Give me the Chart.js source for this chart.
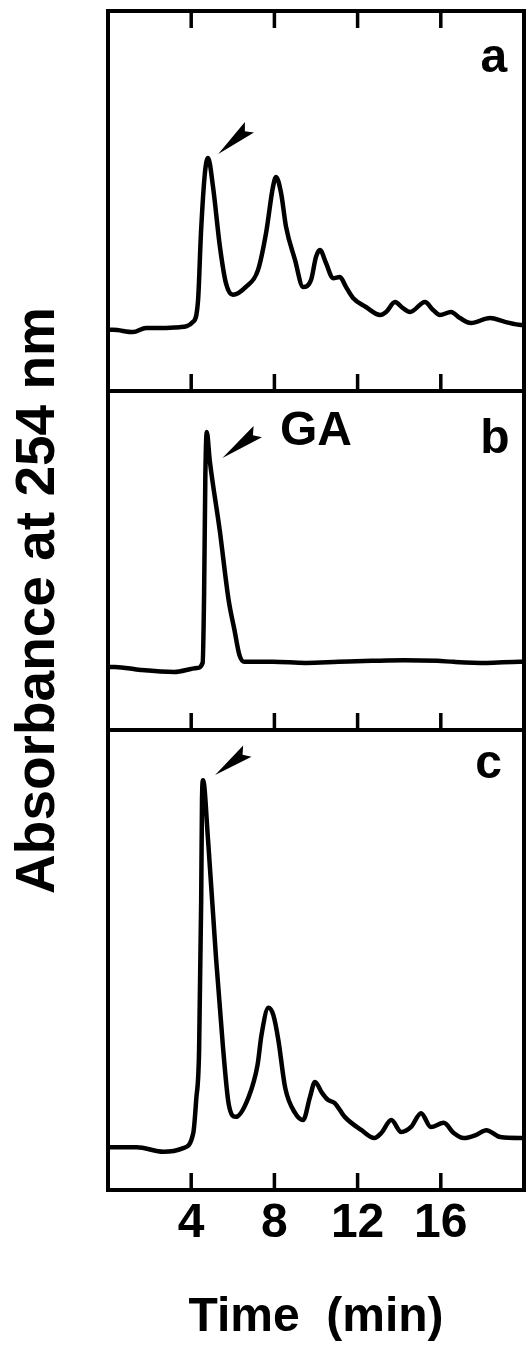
<!DOCTYPE html>
<html>
<head>
<meta charset="utf-8">
<script src="https://cdn.jsdelivr.net/npm/chart.js@4.4.1/dist/chart.umd.min.js"></script>
<style>
  html, body { margin: 0; padding: 0; background: #fff; }
  #wrap { position: relative; width: 530px; height: 1353px; }
</style>
</head>
<body>
<div id="wrap"><canvas id="chrom"></canvas></div>
<script>
// retention time (min) / absorbance (arbitrary units, 0-100 of each panel)
const timeA = [0, 0.24, 1.2, 1.83, 2.64, 3.46, 4.09, 4.33, 4.47, 4.66, 4.81, 5.05, 5.38, 5.67, 6.01, 6.63, 7.21, 7.6, 7.93, 8.08,
  8.32, 8.56, 8.99, 9.38, 9.76, 10.0, 10.19, 10.48, 10.82, 11.15, 11.44, 11.78, 12.4, 13.08, 13.37, 13.8, 14.18, 14.52, 15.24, 15.63,
  15.96, 16.49, 16.92, 17.45, 18.37, 19.09, 19.86, 20];
const absA = [16.1, 16.1, 15.5, 16.6, 16.6, 16.8, 18.2, 23.9, 41.6, 57.4, 61.3, 53.7, 38, 28.4, 25.3, 27.4, 31.8, 41.6, 53.7, 56.3,
  52.1, 43.2, 34.5, 27.4, 29.2, 35.3, 37.1, 33.7, 29.7, 30.0, 27.4, 24.5, 22.1, 20.0, 20.8, 23.4, 21.8, 20.8, 23.4, 21.3,
  20.0, 20.8, 19.2, 17.9, 19.2, 18.2, 17.4, 17.4];

const timeB = [0, 0.33, 1.57, 3.18, 4.28, 4.55, 4.62, 4.68, 4.75, 4.89, 5.37, 5.8, 6.08, 6.32, 6.56, 7.93, 9.5, 11.07, 12.68,
  14.25, 15.82, 16.63, 18.19, 19.8, 20];
const absB = [18.6, 18.6, 17.7, 17.1, 18.3, 19.8, 40, 75, 87.9, 79.6, 59.0, 38.3, 29.5, 22.1, 20.1, 20.1, 19.8, 20.1, 20.4,
  20.6, 20.4, 20.1, 19.8, 20.1, 20.1];

const timeC = [0, 0.29, 1.38, 2.67, 3.62, 4.1, 4.24, 4.38, 4.48, 4.52, 4.57, 4.81, 5.19, 5.52, 5.81, 6.14, 6.76, 7.19, 7.38, 7.71,
  7.95, 8.19, 8.52, 9.0, 9.38, 9.71, 9.95, 10.29, 10.57, 10.9, 11.38, 12.19, 12.81, 13.14, 13.62, 14.1, 14.57, 15.05, 15.52, 16.14,
  16.62, 17.1, 17.71, 18.19, 18.86, 19.81, 20];
const absC = [9.3, 9.3, 9.3, 8.3, 9.1, 12.4, 19.6, 30.4, 63, 85, 89.1, 76.1, 50.7, 31.5, 18.5, 15.9, 20.2, 27.2, 33.7, 39.6,
  38, 32.6, 22.2, 16.7, 15.2, 20.2, 23.5, 21.1, 19.6, 18.9, 15.9, 13, 11.3, 12.4, 15.2, 12.6, 13.7, 16.7, 13.7, 14.6,
  12.4, 11.3, 12.0, 13, 11.5, 11.3, 11.3];

const xTicks = [4, 8, 12, 16];
const panelIds = ['ya', 'yb', 'yc'];
const panelLetters = ['a', 'b', 'c'];

// annotations (panel data units)
const letterAt = [[18.55, 83.9], [18.6, 81.7], [18.3, 89.6]];
const gaLabel = { text: 'GA', x: 10.0, y: 84.1 };
const arrows = [
  { panel: 'ya', tip: [5.3, 62.4], tail: [6.8, 69.4] },
  { panel: 'yb', tip: [5.5, 80.2], tail: [7.2, 88.0] },
  { panel: 'yc', tip: [5.15, 90.2], tail: [6.7, 95.4] }
];

function points(t, v) {
  return t.map((x, i) => ({ x: x, y: v[i] }));
}

function dart(ctx, tx, ty, bx, by) {
  const dx = tx - bx, dy = ty - by;
  const len = Math.hypot(dx, dy);
  const ux = dx / len, uy = dy / len;
  const nx = -uy, ny = ux;
  const half = 7;
  ctx.beginPath();
  ctx.moveTo(tx, ty);
  ctx.lineTo(bx + nx * half, by + ny * half);
  ctx.lineTo(bx + ux * 6, by + uy * 6);
  ctx.lineTo(bx - nx * half, by - ny * half);
  ctx.closePath();
  ctx.fill();
}

const framePlugin = {
  id: 'frame',
  afterDatasetsDraw(chart) {
    const { ctx, chartArea: area, scales } = chart;
    const x = scales.x;
    ctx.save();
    ctx.strokeStyle = '#000';
    ctx.fillStyle = '#000';
    ctx.lineWidth = 4;
    ctx.strokeRect(area.left, area.top, area.width, area.height);

    // panel dividers
    ctx.beginPath();
    ['ya', 'yb'].forEach(id => {
      const yb = scales[id].bottom;
      ctx.moveTo(area.left, yb);
      ctx.lineTo(area.right, yb);
    });
    ctx.stroke();

    // inward tick marks
    ctx.lineWidth = 3.5;
    ctx.beginPath();
    xTicks.forEach(v => {
      const px = x.getPixelForValue(v);
      ctx.moveTo(px, scales.ya.top);
      ctx.lineTo(px, scales.ya.top + 17);
      panelIds.forEach(id => {
        const b = scales[id].bottom;
        ctx.moveTo(px, b);
        ctx.lineTo(px, b - 17);
      });
    });
    ctx.stroke();

    // panel letters and GA label
    ctx.font = "bold 48px 'Liberation Sans', Arial, sans-serif";
    ctx.textAlign = 'center';
    ctx.textBaseline = 'alphabetic';
    panelIds.forEach((id, i) => {
      ctx.fillText(panelLetters[i], x.getPixelForValue(letterAt[i][0]), scales[id].getPixelForValue(letterAt[i][1]));
    });
    ctx.fillText(gaLabel.text, x.getPixelForValue(gaLabel.x), scales.yb.getPixelForValue(gaLabel.y));

    // arrowheads pointing at the peaks
    arrows.forEach(a => {
      const ys = scales[a.panel];
      dart(ctx, x.getPixelForValue(a.tip[0]), ys.getPixelForValue(a.tip[1]),
        x.getPixelForValue(a.tail[0]), ys.getPixelForValue(a.tail[1]));
    });
    ctx.restore();
  }
};

Chart.defaults.font.family = "'Liberation Sans', Arial, sans-serif";
Chart.defaults.font.weight = 'bold';
Chart.defaults.color = '#000';

const hiddenPanel = (weight) => ({
  type: 'linear',
  position: 'left',
  stack: 'panels',
  stackWeight: weight,
  min: 0,
  max: 100,
  ticks: { display: false },
  grid: { display: false, drawTicks: false },
  border: { display: false },
  afterFit: s => { s.width = 0; }
});

const lineStyle = {
  borderColor: '#000',
  borderWidth: 4.5,
  pointRadius: 0,
  fill: false,
  cubicInterpolationMode: 'monotone'
};

new Chart(document.getElementById('chrom'), {
  type: 'line',
  data: {
    datasets: [
      Object.assign({ label: 'a', data: points(timeA, absA), yAxisID: 'ya' }, lineStyle),
      Object.assign({ label: 'b', data: points(timeB, absB), yAxisID: 'yb' }, lineStyle),
      Object.assign({ label: 'c', data: points(timeC, absC), yAxisID: 'yc' }, lineStyle)
    ]
  },
  options: {
    responsive: true,
    maintainAspectRatio: false,
    devicePixelRatio: 1,
    animation: false,
    layout: { padding: { top: 11, right: 6, bottom: 0, left: 0 } },
    plugins: { legend: { display: false }, tooltip: { enabled: false } },
    scales: {
      x: {
        type: 'linear',
        position: 'bottom',
        min: 0,
        max: 20,
        afterBuildTicks: s => { s.ticks = xTicks.map(v => ({ value: v })); },
        ticks: { autoSkip: false, maxRotation: 0, padding: 5, font: { size: 48, weight: 'bold' } },
        grid: { display: false, drawTicks: false },
        border: { display: false },
        title: { display: true, text: 'Time  (min)', font: { size: 48, weight: 'bold' }, padding: { top: 0, bottom: 6 } },
        afterFit: s => { s.height = 163; }
      },
      ytitle: {
        type: 'linear',
        position: 'left',
        ticks: { display: false },
        grid: { display: false, drawTicks: false },
        border: { display: false },
        title: { display: true, text: 'Absorbance at 254 nm', font: { size: 55, weight: 'bold' }, padding: { top: 6, bottom: 0 } },
        afterFit: s => { s.width = 108; }
      },
      yc: hiddenPanel(460),
      yb: hiddenPanel(339),
      ya: hiddenPanel(380)
    }
  },
  plugins: [framePlugin]
});
</script>
</body>
</html>
